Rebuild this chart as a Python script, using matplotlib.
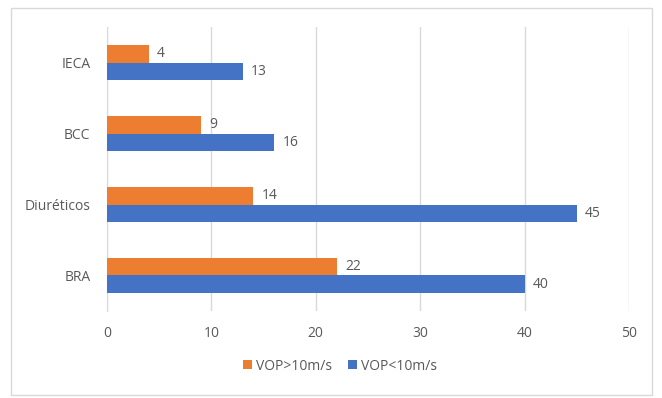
import matplotlib
matplotlib.use("Agg")
import matplotlib.pyplot as plt
from matplotlib.patches import Rectangle
import numpy as np

categories = ["BRA", "Diuréticos", "BCC", "IECA"]
vop_gt = [22, 14, 9, 4]
vop_lt = [40, 45, 16, 13]
labels = ["VOP>10m/s", "VOP<10m/s"]
xticks = [0, 10, 20, 30, 40, 50]

plt.rcParams['font.family'] = ['Open Sans', 'DejaVu Sans']
gray = "#595959"
orange = "#ED7D31"
blue = "#4472C4"
fs = 10

fig = plt.figure(figsize=(6.62, 3.98), dpi=100)
fig.patches.append(Rectangle((11/662, 3/398), 641/662, 387/398, transform=fig.transFigure,
                             fill=False, edgecolor="#d9d9d9", linewidth=1))
ax = fig.add_axes([107/662, 87/398, 522/662, 284/398])

y = np.arange(len(categories))
h = 0.24
b1 = ax.barh(y + h/2, vop_gt, height=h, color=orange, label=labels[0], zorder=3)
b2 = ax.barh(y - h/2, vop_lt, height=h, color=blue, label=labels[1], zorder=3)
for bars, vals in ((b1, vop_gt), (b2, vop_lt)):
    for rect, v in zip(bars, vals):
        ax.annotate(str(v), (rect.get_width(), rect.get_y() + rect.get_height()/2),
                    xytext=(6, 0), textcoords="offset points", va="center", ha="left",
                    fontsize=fs, color=gray)

ax.set_xlim(0, 50)
ax.set_ylim(-0.5, len(categories) - 0.5)
ax.set_xticks(xticks)
ax.set_yticks(y)
ax.set_yticklabels(categories)
ax.tick_params(axis='both', length=0, labelsize=fs, labelcolor=gray)
ax.tick_params(axis='x', pad=11)
ax.tick_params(axis='y', pad=12)
ax.grid(axis='x', color="#d9d9d9", linewidth=1, zorder=0)
for s in ["top", "right", "bottom"]:
    ax.spines[s].set_visible(False)
ax.spines["left"].set_color("#d9d9d9")

leg = fig.legend(handles=[b1, b2], labels=labels, loc="center", bbox_to_anchor=(340/662, 1 - 366/398),
                 ncol=2, frameon=False, fontsize=fs, handlelength=0.6, handleheight=0.6,
                 handletextpad=0.3, columnspacing=1.2)
for t in leg.get_texts():
    t.set_color(gray)

fig.savefig("out.png", dpi=100)
